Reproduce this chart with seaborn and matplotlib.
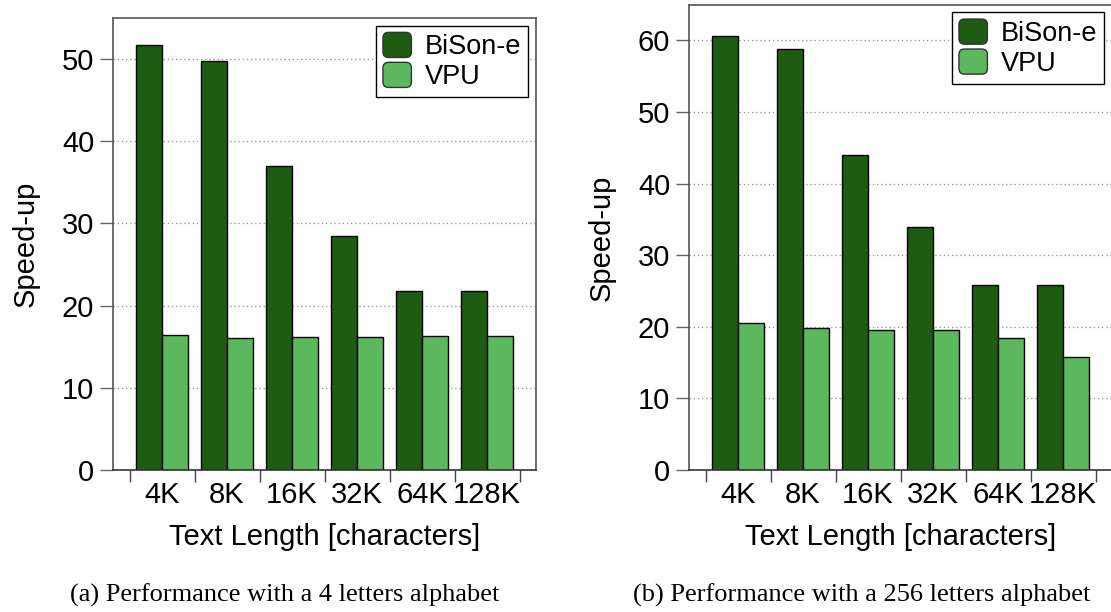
import matplotlib
matplotlib.use("Agg")
import matplotlib.pyplot as plt
import seaborn as sns
import pandas as pd
from matplotlib.legend_handler import HandlerPatch
from matplotlib.patches import Patch, FancyBboxPatch

# данные
lengths = ["4K", "8K", "16K", "32K", "64K", "128K"]
systems = ["BiSon-e", "VPU"]
bison_4 = [51.7, 49.8, 37.0, 28.45, 21.8, 21.8]
vpu_4 = [16.4, 16.1, 16.2, 16.2, 16.25, 16.3]
bison_256 = [60.65, 58.75, 43.95, 34.0, 25.9, 25.9]
vpu_256 = [20.5, 19.8, 19.55, 19.5, 18.4, 15.8]

yticks_a = [0, 10, 20, 30, 40, 50]
yticks_b = [0, 10, 20, 30, 40, 50, 60]
captions = ["(a) Performance with a 4 letters alphabet",
            "(b) Performance with a 256 letters alphabet"]

colors = ["#1e5c12", "#5cb85c"]


def to_frame(bison, vpu):
    rows = []
    for i, name in enumerate(lengths):
        rows.append({"length": name, "system": systems[0], "speedup": bison[i]})
        rows.append({"length": name, "system": systems[1], "speedup": vpu[i]})
    return pd.DataFrame(rows)


def rounded_box(legend, orig_handle, xdescent, ydescent, width, height, fontsize):
    return FancyBboxPatch((-xdescent, -ydescent), width, height,
                          boxstyle="round,pad=0,rounding_size=4")


def draw_panel(ax, df, yticks, ymax):
    sns.barplot(data=df, x="length", y="speedup", hue="system", order=lengths,
                hue_order=systems, palette=colors, saturation=1, edgecolor="black",
                linewidth=1.0, width=0.8, gap=0, legend=False, ax=ax)
    ax.set_xlim(-0.75, 5.75)
    ax.set_ylim(0, ymax)
    ax.set_yticks(yticks)
    ax.set_axisbelow(True)
    ax.yaxis.grid(True, linestyle=(0, (1, 2)), color="#999999", linewidth=1.0)
    ax.xaxis.grid(False)
    # засечки по границам групп, подписи по центрам
    ax.set_xticks([i - 0.5 for i in range(len(lengths) + 1)], minor=True)
    ax.tick_params(axis="x", which="minor", length=8.5, width=1.0,
                   color="#444444", direction="out", bottom=True)
    ax.tick_params(axis="x", which="major", length=0, pad=8, labelsize=21,
                   labelcolor="black")
    ax.tick_params(axis="y", which="major", length=9.5, width=1.0,
                   color="#666666", direction="out", pad=4.3, labelsize=21,
                   labelcolor="black", left=True)
    ax.set_xlabel("Text Length [characters]", fontsize=21, labelpad=10, color="black")
    ax.set_ylabel("Speed-up", fontsize=21, labelpad=16, color="black")
    for side in ["left", "top", "right", "bottom"]:
        ax.spines[side].set_color("#555555")
        ax.spines[side].set_linewidth(1.2)
    ax.spines["bottom"].set_color("#333333")

    handles = [Patch(facecolor=c, edgecolor="#333333", linewidth=1.0) for c in colors]
    leg = ax.legend(handles, systems, loc="upper right", fontsize=19.5,
                    handler_map={Patch: HandlerPatch(patch_func=rounded_box)},
                    handlelength=1.05, handleheight=1.05, handletextpad=0.5,
                    labelspacing=0.08, borderpad=0.25, borderaxespad=0.28,
                    fancybox=False, framealpha=1.0, edgecolor="black")
    leg.get_frame().set_linewidth(1.0)
    for t in leg.get_texts():
        t.set_color("black")


sns.set_style("ticks")
plt.rcParams["font.family"] = ["Liberation Sans", "DejaVu Sans"]
plt.rcParams["text.color"] = "black"

fig = plt.figure(figsize=(11.11, 6.12), dpi=100)
W, H = 1111.0, 612.0
ax_a = fig.add_axes([113.3 / W, (H - 470) / H, 422.5 / W, 452 / H])
ax_b = fig.add_axes([689.3 / W, (H - 470) / H, 422.5 / W, 465.3 / H])

draw_panel(ax_a, to_frame(bison_4, vpu_4), yticks_a, 55)
draw_panel(ax_b, to_frame(bison_256, vpu_256), yticks_b, 65)

fig.text(285 / W, (H - 602) / H, captions[0], ha="center", va="baseline",
         fontsize=19, color="black", family=["Liberation Serif", "DejaVu Serif"])
fig.text(862 / W, (H - 602) / H, captions[1], ha="center", va="baseline",
         fontsize=19, color="black", family=["Liberation Serif", "DejaVu Serif"])

fig.savefig("out.png", dpi=100)
